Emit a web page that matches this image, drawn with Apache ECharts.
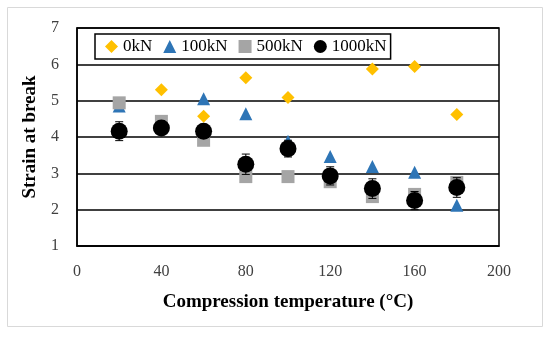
<!DOCTYPE html>
<html><head><meta charset="utf-8">
<script src="https://cdn.jsdelivr.net/npm/echarts@6/dist/echarts.min.js"></script>
<style>html,body{margin:0;padding:0;background:#fff}#c{width:550px;height:338px}</style>
</head><body><div id="c"></div>
<script>
const temps = [20, 40, 60, 80, 100, 120, 140, 160, 180];
const s0kN = [null, 5.30, 4.57, 5.63, 5.09, null, 5.87, 5.94, 4.62];
const s100kN = [4.85, 4.40, 5.05, 4.64, 3.88, 3.46, 3.19, 3.03, 2.12];
const s500kN = [4.94, 4.43, 3.91, 2.91, 2.91, 2.77, 2.36, 2.42, 2.75];
const s1000kN = [4.16, 4.25, 4.16, 3.25, 3.68, 2.93, 2.58, 2.25, 2.61];
const err1000kN = [0.26, 0.16, 0.10, 0.28, 0.23, 0.25, 0.27, 0.25, 0.27];
const xTicks = [0, 40, 80, 120, 160, 200];
const yTicks = [1, 2, 3, 4, 5, 6, 7];

const pair = arr => temps.map((t, i) => [t, arr[i]]);
const font = 'Liberation Serif';
const chart = echarts.init(document.getElementById('c'));
chart.setOption({
  animation: false,
  textStyle: {fontFamily: font},
  graphic: [{type: 'rect', shape: {x: 7.5, y: 7.5, width: 535, height: 319}, style: {fill: 'none', stroke: '#d9d9d9', lineWidth: 1}, z: -1}],
  grid: {left: 77, right: 51, top: 28, bottom: 92, show: true, borderColor: '#000', borderWidth: 1.5},
  legend: {
    left: 95, top: 34, orient: 'horizontal',
    backgroundColor: '#fff', borderColor: '#000', borderWidth: 1.5,
    padding: [4, 4, 4, 10], itemGap: 11, itemWidth: 13, itemHeight: 13,
    textStyle: {fontFamily: font, fontSize: 17, color: '#000'},
    data: [
      {name: '0kN', icon: 'diamond'},
      {name: '100kN', icon: 'triangle'},
      {name: '500kN', icon: 'rect'},
      {name: '1000kN', icon: 'circle'}
    ]
  },
  xAxis: {
    type: 'value', min: 0, max: 200, interval: 40,
    name: 'Compression temperature (°C)', nameLocation: 'middle', nameGap: 47,
    nameTextStyle: {fontFamily: font, fontSize: 19, fontWeight: 'bold', color: '#000'},
    axisLine: {show: true, lineStyle: {color: '#000', width: 1.5}},
    axisTick: {show: false}, splitLine: {show: false},
    axisLabel: {fontFamily: font, fontSize: 16, color: '#404040', margin: 18,
      formatter: v => xTicks.includes(v) ? String(v) : ''}
  },
  yAxis: {
    type: 'value', min: 1, max: 7, interval: 1,
    name: 'Strain at break', nameLocation: 'middle', nameGap: 37,
    nameTextStyle: {fontFamily: font, fontSize: 19, fontWeight: 'bold', color: '#000'},
    axisLine: {show: true, lineStyle: {color: '#000', width: 1.5}},
    axisTick: {show: false},
    splitLine: {show: true, lineStyle: {color: '#000', width: 1.5}},
    axisLabel: {fontFamily: font, fontSize: 16, color: '#404040', margin: 18,
      formatter: v => yTicks.includes(v) ? String(v) : ''}
  },
  series: [
    {name: '0kN', type: 'scatter', symbol: 'diamond', symbolSize: 13, itemStyle: {color: '#FFC000', opacity: 1}, data: pair(s0kN), z: 2},
    {name: '100kN', type: 'scatter', symbol: 'triangle', symbolSize: 13, itemStyle: {color: '#2E75B6', opacity: 1}, data: pair(s100kN), z: 3},
    {name: '500kN', type: 'scatter', symbol: 'rect', symbolSize: 13, itemStyle: {color: '#A5A5A5', opacity: 1}, data: pair(s500kN), z: 4},
    {name: '1000kN', type: 'scatter', symbol: 'circle', symbolSize: 17, itemStyle: {color: '#000', opacity: 1}, data: pair(s1000kN), z: 6},
    {
      name: 'err', type: 'custom', z: 5,
      data: temps.map((t, i) => [t, s1000kN[i] - err1000kN[i], s1000kN[i] + err1000kN[i]]),
      renderItem: (params, api) => {
        const lo = api.coord([api.value(0), api.value(1)]);
        const hi = api.coord([api.value(0), api.value(2)]);
        const w = 4;
        const st = {stroke: '#000', lineWidth: 1};
        return {type: 'group', children: [
          {type: 'line', shape: {x1: lo[0], y1: lo[1], x2: hi[0], y2: hi[1]}, style: st},
          {type: 'line', shape: {x1: lo[0]-w, y1: lo[1], x2: lo[0]+w, y2: lo[1]}, style: st},
          {type: 'line', shape: {x1: hi[0]-w, y1: hi[1], x2: hi[0]+w, y2: hi[1]}, style: st}
        ]};
      }
    }
  ]
});
</script></body></html>
